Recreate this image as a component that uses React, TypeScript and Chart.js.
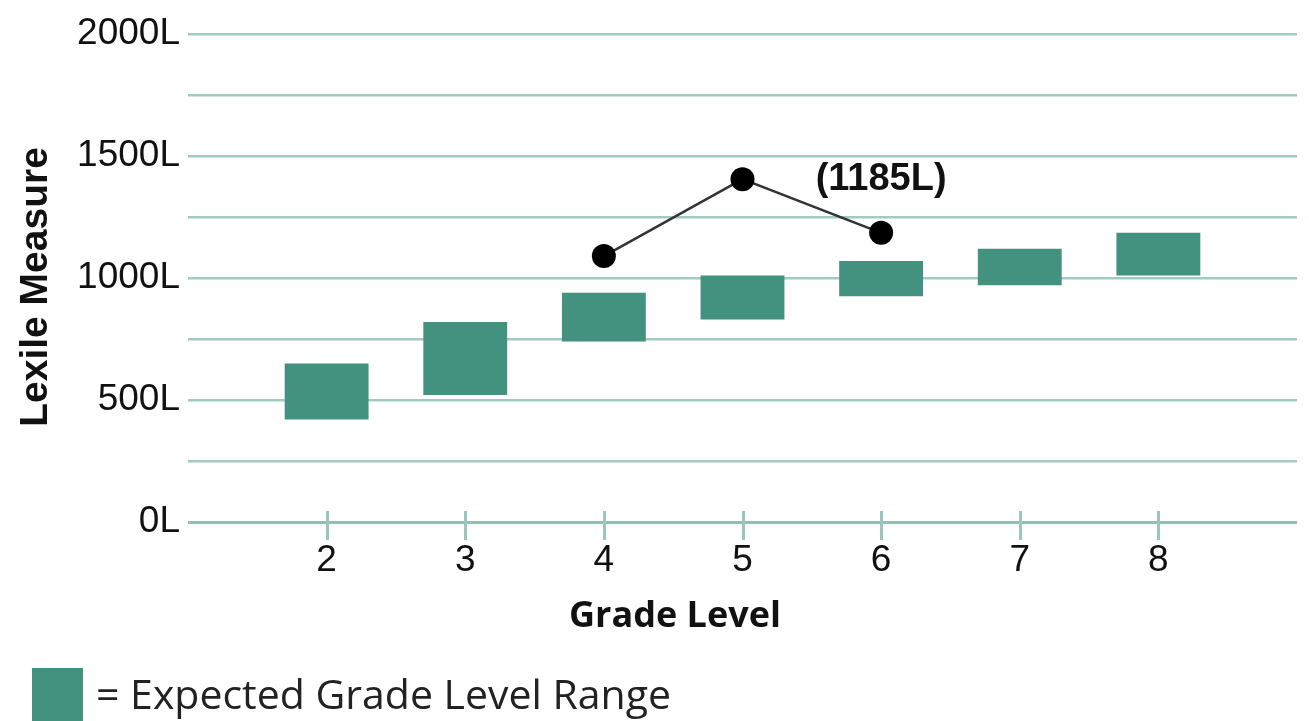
import React, { useEffect, useRef } from "react";
import { Chart, registerables } from "chart.js";

Chart.register(...registerables);

const grades = [2, 3, 4, 5, 6, 7, 8];
const rangeLow = [420, 520, 740, 830, 925, 970, 1010];
const rangeHigh = [650, 820, 940, 1010, 1070, 1120, 1185];
const scoreGrades = [4, 5, 6];
const scoreValues = [1090, 1405, 1185];
const yTickLabelsEvery = 500;
const highlightLabel = "(1185L)";
const xTitle = "Grade Level";
const yTitle = "Lexile Measure";
const legendText = "= Expected Grade Level Range";

const BAR = "#43917f";
const GRID = "#a2cac3";
const AXIS = "#93bdb5";

export default function App() {
  const ref = useRef<HTMLCanvasElement | null>(null);

  useEffect(() => {
    const canvas = ref.current;
    if (!canvas) return;

    const decor = {
      id: "decor",
      beforeDatasetsDraw(chart: any) {
        const ctx = chart.ctx;
        const xs = chart.scales.x;
        const ys = chart.scales.y;
        const y0 = ys.getPixelForValue(0);
        ctx.save();
        ctx.strokeStyle = "#9cc5be";
        ctx.lineWidth = 3;
        grades.forEach((g) => {
          const x = Math.round(xs.getPixelForValue(g)) + 0.5;
          ctx.beginPath();
          ctx.moveTo(x, y0 - 11);
          ctx.lineTo(x, y0 + 18);
          ctx.stroke();
        });
        ctx.restore();
      },
      afterDraw(chart: any) {
        const ctx = chart.ctx;
        ctx.save();
        // highlight label
        const meta = chart.getDatasetMeta(1);
        const pt = meta.data[2];
        ctx.fillStyle = "#111";
        ctx.font = "bold 38px 'Liberation Sans', Arial, sans-serif";
        ctx.textAlign = "center";
        ctx.textBaseline = "middle";
        ctx.fillText(highlightLabel, pt.x, pt.y - 53);

        // x title
        ctx.font = "bold 36px 'Open Sans', sans-serif";
        ctx.fillStyle = "#111";
        ctx.textAlign = "center";
        ctx.textBaseline = "middle";
        ctx.fillText(xTitle, 675, 617);

        // y title
        ctx.save();
        ctx.translate(36, 287);
        ctx.rotate(-Math.PI / 2);
        ctx.font = "bold 39px 'Liberation Sans', Arial, sans-serif";
        ctx.fillText(yTitle, 0, 0);
        ctx.restore();

        // legend
        ctx.fillStyle = BAR;
        ctx.fillRect(32, 668, 51, 53);
        ctx.fillStyle = "#222";
        ctx.font = "41px 'Open Sans', sans-serif";
        ctx.textAlign = "left";
        ctx.textBaseline = "alphabetic";
        ctx.fillText(legendText, 96, 709);
        ctx.restore();
      },
    };

    const chart = new Chart(canvas, {
      data: {
        datasets: [
          {
            type: "bar",
            data: grades.map((g, i) => ({ x: g, y: [rangeLow[i], rangeHigh[i]] })) as any,
            backgroundColor: BAR,
            borderWidth: 0,
            barPercentage: 0.605,
            categoryPercentage: 1,
            order: 2,
          },
          {
            type: "line",
            data: scoreGrades.map((g, i) => ({ x: g, y: scoreValues[i] })) as any,
            borderColor: "#333333",
            borderWidth: 2.5,
            pointRadius: 12,
            pointBackgroundColor: "#000000",
            pointBorderWidth: 0,
            order: 1,
          },
        ],
      },
      options: {
        animation: false,
        responsive: false,
        events: [],
        layout: { padding: { left: 0, right: 9, top: 34, bottom: 0 } },
        plugins: { legend: { display: false }, tooltip: { enabled: false } },
        scales: {
          x: {
            type: "linear",
            min: 1,
            max: 9,
            offset: false,
            afterBuildTicks: (s: any) => {
              s.ticks = grades.map((g) => ({ value: g }));
            },
            afterFit: (s: any) => {
              s.height = 199;
            },
            grid: { display: false, offset: false },
            border: { display: false },
            ticks: {
              font: { family: "'Liberation Sans', Arial, sans-serif", size: 37 },
              color: "#111",
              padding: 9,
              maxRotation: 0,
              autoSkip: false,
              callback: (v: any) => String(v),
            },
          },
          y: {
            min: 0,
            max: 2000,
            afterFit: (s: any) => {
              s.width = 188;
            },
            border: { display: false },
            grid: {
              color: (c: any) => (c.tick && c.tick.value === 0 ? AXIS : GRID),
              lineWidth: (c: any) => (c.tick && c.tick.value === 0 ? 3 : 2.5),
              drawTicks: false,
            },
            ticks: {
              stepSize: 250,
              padding: 8,
              font: { family: "'Liberation Sans', Arial, sans-serif", size: 37 },
              color: "#111",
              callback: (v: any) => (Number(v) % yTickLabelsEvery === 0 ? `${v}L` : ""),
            },
          },
        },
      },
      plugins: [decor],
    } as any);

    return () => chart.destroy();
  }, []);

  return (
    <div style={{ position: "absolute", left: 0, top: 0, width: 1309, height: 721, background: "#fff" }}>
      <canvas ref={ref} width={1309} height={721} style={{ display: "block" }} />
    </div>
  );
}
